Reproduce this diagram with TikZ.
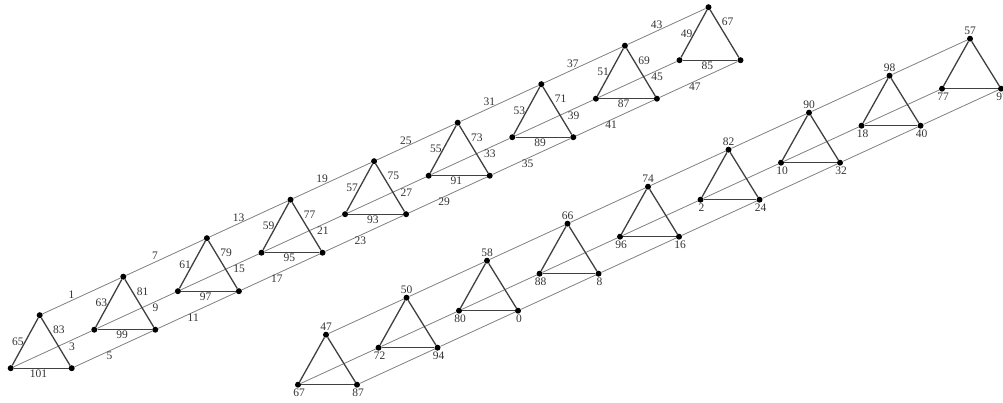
\documentclass[tikz,border=0pt]{standalone}
\usepackage{fontspec}
\setmainfont{Liberation Serif}
\usetikzlibrary{positioning}

\tikzset{
    vertex/.style={circle, fill=black, inner sep=0pt, minimum size=6pt},
    link/.style={draw=black!50, line width=0.8pt},
    side/.style={draw=black!75, line width=1.3pt},
    lab/.style={font=\fontsize{11.5}{13}\selectfont, text=black!80, inner sep=1pt},
}

\begin{document}
\begin{tikzpicture}[x=1pt, y=-1pt]
    \useasboundingbox (0,0) rectangle (1003,403);

    \foreach \i in {1,...,9} {
        \node[vertex] (lft\i) at ({10.7+83.6*(\i-1)}, {368.2-38.5*(\i-1)}) {};
        \node[vertex, above right=53pt and 29pt of lft\i.center, anchor=center] (top\i) {};
        \node[vertex, right=61pt of lft\i.center, anchor=center] (rgt\i) {};
    }

    \foreach \i/\t/\l/\r in {1/47/67/87, 2/50/72/94, 3/58/80/0, 4/66/88/8, 5/74/96/16,
                             6/82/2/24, 7/90/10/32, 8/98/18/40, 9/57/77/97} {
        \node[vertex, label={[lab, xshift=1pt]below:\l}] (ulft\i) at ({298+80.5*(\i-1)}, {384.7-37*(\i-1)}) {};
        \node[vertex, above right=50pt and 28pt of ulft\i.center, anchor=center,
              label={[lab]above:\t}] (utop\i) {};
        \node[vertex, right=59pt of ulft\i.center, anchor=center,
              label={[lab, xshift=1pt]below:\r}] (urgt\i) {};
    }

    \foreach \i [evaluate=\i as \j using int(\i+1),
                 evaluate=\i as \a using int(6*\i-5),
                 evaluate=\i as \b using int(6*\i-3),
                 evaluate=\i as \c using int(6*\i-1)] in {1,...,8} {
        \path[link] (top\i) -- (top\j) node[lab, pos=0.37, above=1pt] {\a};
        \path[link] (lft\i) -- (lft\j) node[lab, pos=0.75, below=1pt] {\b};
        \path[link] (rgt\i) -- (rgt\j) node[lab, pos=0.45, below] {\c};
        \path[link] (utop\i) -- (utop\j);
        \path[link] (ulft\i) -- (ulft\j);
        \path[link] (urgt\i) -- (urgt\j);
    }

    \foreach \i [evaluate=\i as \a using int(67-2*\i),
                 evaluate=\i as \b using int(85-2*\i),
                 evaluate=\i as \c using int(103-2*\i)] in {1,...,9} {
        \path[side] (lft\i) -- (top\i) node[lab, midway, left] {\a};
        \path[side] (top\i) -- (rgt\i) node[lab, pos=0.25, right=3pt] {\b};
        \path[side] (lft\i) -- (rgt\i) node[lab, pos=0.45, below] {\c};
        \path[side] (ulft\i) -- (utop\i);
        \path[side] (utop\i) -- (urgt\i);
        \path[side] (ulft\i) -- (urgt\i);
    }

\end{tikzpicture}
\end{document}
